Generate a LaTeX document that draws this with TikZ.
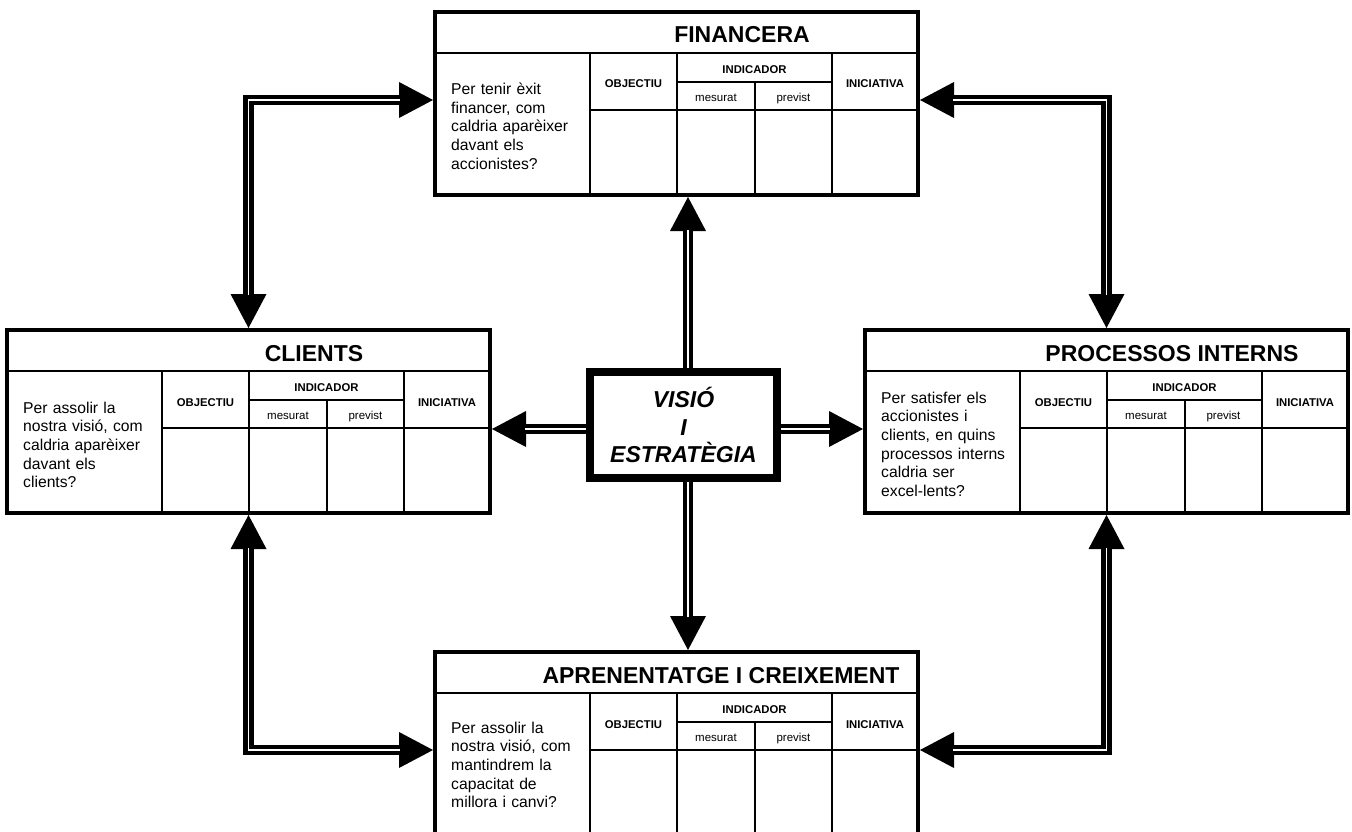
\documentclass[tikz,border=0pt]{standalone}
\usepackage{fontspec}
\setmainfont{Liberation Sans}
\usetikzlibrary{arrows.meta}

\newcommand\fsz[2]{\fontsize{#1}{#2}\selectfont}

\tikzset{
  bscframe/.style={draw, line width=4pt, minimum width=483pt, minimum height=183pt, inner sep=0pt},
  gridline/.style={line width=2pt},
  titlerule/.style={line width=2.5pt},
  ttl/.style={anchor=base, font=\bfseries\fsz{23}{27}, inner sep=0pt},
  hdr/.style={anchor=base, font=\bfseries\fsz{11.3}{13}, inner sep=0pt},
  subhdr/.style={anchor=base, font=\fsz{11.5}{13}, inner sep=0pt},
  qst/.style={anchor=base west, font=\fsz{15.7}{18.7}, text width=165pt, align=left, inner sep=0pt},
  vision/.style={draw, line width=8pt, minimum width=187pt, minimum height=106pt, inner sep=0pt,
    align=center, font=\bfseries\itshape\fsz{23}{27.5}},
  >={Triangle[length=34pt,width=36pt,line width=0pt]},
  shaft/.style={line width=10.5pt, line join=miter},
  shaftcore/.style={white, line width=1.6pt, line join=miter},
}

% #1 name, #2 left, #3 top, #4 title, #5 title centre offset,
% #6 first baseline offset of the question, #7 question
\newcommand\bscbox[7]{%
  \node[bscframe] (#1) at (#2+241.5,#3+91.5) {};
  \draw[titlerule] (#2,#3+41) -- (#2+483,#3+41);
  \draw[gridline] (#2+155,#3+41) -- (#2+155,#3+183)
                  (#2+242,#3+41) -- (#2+242,#3+183)
                  (#2+397,#3+41) -- (#2+397,#3+183)
                  (#2+320,#3+70) -- (#2+320,#3+183)
                  (#2+242,#3+70) -- (#2+397,#3+70);
  \draw[titlerule] (#2+155,#3+98) -- (#2+483,#3+98);
  \node[ttl] (#1-title) at (#2+#5,#3+31) {#4};
  \node[hdr] (#1-obj) at (#2+198.5,#3+76) {OBJECTIU};
  \node[hdr] (#1-ind) at (#2+319.5,#3+61.5) {INDICADOR};
  \node[subhdr] (#1-mes) at (#2+281,#3+89.5) {mesurat};
  \node[subhdr] (#1-pre) at (#2+358.5,#3+89.5) {previst};
  \node[hdr] (#1-ini) at (#2+440,#3+76) {INICIATIVA};
  \node[qst] (#1-q) at (#2+16,#3+#6) {#7};
}

\begin{document}
\begin{tikzpicture}[x=1pt,y=-1pt]
  \clip (0,0) rectangle (1352,832);
  \fill[white] (0,0) rectangle (1352,832);

  \bscbox{fin}{435}{12}{FINANCERA}{307}{82.5}%
    {Per tenir èxit\\financer, com\\caldria aparèixer\\davant els\\accionistes?}
  \bscbox{cl}{7}{330}{CLIENTS}{307}{83}%
    {Per assolir la\\nostra visió, com\\caldria aparèixer\\davant els\\clients?}
  \bscbox{pr}{865}{330}{PROCESSOS INTERNS}{307}{73}%
    {Per satisfer els\\accionistes i\\clients, en quins\\processos interns\\caldria ser\\excel-lents?}
  \bscbox{ap}{435}{652}{APRENENTATGE I CREIXEMENT}{286}{81}%
    {Per assolir la\\nostra visió, com\\mantindrem la\\capacitat de\\millora i canvi?}

  \node[vision] (cv) at (683.5,425) {VISIÓ\\I\\ESTRATÈGIA};

  % black shafts with arrow heads
  \draw[shaft,->] ([xshift=4.5pt]cv.north) -- ([xshift=4.5pt]cv.north |- fin.south);
  \draw[shaft,->] ([xshift=4.5pt]cv.south) -- ([xshift=4.5pt]cv.south |- ap.north);
  \draw[shaft,->] ([yshift=-4pt]cv.west) -- ([yshift=-4pt]cv.west -| cl.east);
  \draw[shaft,->] ([yshift=-4pt]cv.east) -- ([yshift=-4pt]cv.east -| pr.west);
  \draw[shaft,<->] (cl.north) |- ([yshift=3.5pt]fin.west);
  \draw[shaft,<->] (pr.north) |- ([yshift=3.5pt]fin.east);
  \draw[shaft,<->] (cl.south) |- ([yshift=-6.5pt]ap.west);
  \draw[shaft,<->] (pr.south) |- ([yshift=-6.5pt]ap.east);

  % white centre lines of the double shafts
  \draw[shaftcore,shorten >=33pt] ([xshift=4.5pt]cv.north) -- ([xshift=4.5pt]cv.north |- fin.south);
  \draw[shaftcore,shorten >=33pt] ([xshift=4.5pt]cv.south) -- ([xshift=4.5pt]cv.south |- ap.north);
  \draw[shaftcore,shorten >=33pt] ([yshift=-4pt]cv.west) -- ([yshift=-4pt]cv.west -| cl.east);
  \draw[shaftcore,shorten >=33pt] ([yshift=-4pt]cv.east) -- ([yshift=-4pt]cv.east -| pr.west);
  \draw[shaftcore,shorten <=33pt,shorten >=33pt] (cl.north) |- ([yshift=3.5pt]fin.west);
  \draw[shaftcore,shorten <=33pt,shorten >=33pt] (pr.north) |- ([yshift=3.5pt]fin.east);
  \draw[shaftcore,shorten <=33pt,shorten >=33pt] (cl.south) |- ([yshift=-6.5pt]ap.west);
  \draw[shaftcore,shorten <=33pt,shorten >=33pt] (pr.south) |- ([yshift=-6.5pt]ap.east);
\end{tikzpicture}
\end{document}
